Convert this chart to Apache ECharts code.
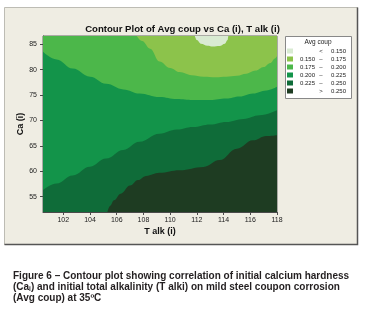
<!DOCTYPE html>
<html>
<head>
<meta charset="utf-8">
<script src="https://cdn.jsdelivr.net/npm/echarts@6/dist/echarts.min.js"></script>
<style>
  html, body { margin: 0; padding: 0; background: #fff; }
  #chart { width: 365px; height: 317px; }
</style>
</head>
<body>
<div id="chart"></div>
<script>
// band edges, as [T alk, Ca] pairs
const topEdge = [[100.48, 86.6], [118, 86.6]];
const yellowEdge = [
  [107.5, 86.6], [107.9, 85.6], [108.5, 84.1], [109.2, 81.6], [110.0, 80.3],
  [110.7, 79.5], [111.6, 78.9], [112.5, 78.6], [113.4, 78.5], [114.2, 78.6],
  [115.0, 78.8], [115.7, 79.2], [116.4, 79.8], [117.0, 80.5], [117.5, 81.3],
  [117.85, 82.2], [118, 82.6]
];
const capEdge = [
  [111.85, 86.6], [112.0, 85.8], [112.3, 85.1], [112.8, 84.7], [113.2, 84.55],
  [113.7, 84.65], [114.1, 85.1], [114.3, 85.8], [114.35, 86.6]
];
const midEdge = [
  [100.48, 83.5], [101.5, 82.0], [102.7, 80.2], [104.0, 78.6], [105.2, 77.2],
  [106.5, 76.1], [107.7, 75.3], [109.2, 74.6], [110.5, 74.2], [111.7, 74.0],
  [113.0, 74.0], [114.2, 74.3], [115.2, 74.7], [116.2, 75.3], [117.2, 75.9], [118, 76.6]
];
const lowEdge = [
  [100.48, 56.3], [101.5, 57.6], [102.7, 59.2], [104.0, 60.9], [105.2, 62.5],
  [106.5, 64.2], [107.7, 65.8], [109.2, 67.4], [110.5, 68.2], [111.7, 68.7],
  [113.0, 69.2], [114.2, 69.7], [115.5, 70.3], [116.7, 71.0], [118, 72.0]
];
const darkEdge = [
  [105.3, 52], [105.5, 53.2], [105.8, 54.3], [106.3, 55.6], [107.0, 57.2],
  [107.6, 58.3], [108.2, 59.1], [109.2, 59.7], [110.7, 60.2], [112.5, 60.85],
  [113.7, 62.2], [115.0, 64.45], [116.2, 66.1], [117.2, 66.95], [118, 67.1]
];

const levelLow = ['', '0.150', '0.175', '0.200', '0.225', ''];
const levelSign = ['<', '–', '–', '–', '–', '>'];
const levelHigh = ['0.150', '0.175', '0.200', '0.225', '0.250', '0.250'];
const levelColors = ['#d9ebd2', '#8cc34b', '#4cb74a', '#13944a', '#0f6c39', '#1e3c22'];

const xTicks = [102, 104, 106, 108, 110, 112, 114, 116, 118];
const yTicks = [55, 60, 65, 70, 75, 80, 85];

const captionLines = [
  'Figure 6 – Contour plot showing correlation of initial calcium hardness',
  '(Ca{sub|i}) and initial total alkalinity (T alki) on mild steel coupon corrosion',
  '(Avg coup) at 35ºC'
];

const levelNames = levelLow.map((lo, i) => (lo + ' ' + levelSign[i] + ' ' + levelHigh[i]).trim());

// paint order: background band first, then blobs at the top, then bands from below
const bands = [
  { level: 2, edge: topEdge, origin: 'start' },
  { level: 1, edge: yellowEdge, origin: 'end' },
  { level: 0, edge: capEdge, origin: 'end' },
  { level: 3, edge: midEdge, origin: 'start' },
  { level: 4, edge: lowEdge, origin: 'start' },
  { level: 5, edge: darkEdge, origin: 'start' }
];

const myChart = echarts.init(document.getElementById('chart'));
const axisColor = '#4a4a4a';
const font = 'Liberation Sans';
const legendText = { fontFamily: font, fontSize: 6, lineHeight: 5, color: '#222' };

myChart.setOption({
  animation: false,
  title: {
    text: 'Contour Plot of Avg coup vs Ca (i), T alk (i)',
    left: 'center',
    top: 19,
    textStyle: { fontFamily: font, fontSize: 9.6, fontWeight: 'bold', color: '#111' }
  },
  grid: { left: 43, top: 36, width: 234, height: 176, show: true, borderColor: '#666', borderWidth: 1, backgroundColor: 'transparent' },
  xAxis: {
    type: 'value',
    min: 100.48,
    max: 118,
    name: 'T alk (i)',
    nameLocation: 'middle',
    nameGap: 15,
    nameMoveOverlap: false,
    nameTextStyle: { fontFamily: font, fontSize: 9, fontWeight: 'bold', color: '#111' },
    axisLine: { show: true, lineStyle: { color: axisColor } },
    axisTick: { show: true, length: 3, customValues: xTicks, lineStyle: { color: axisColor } },
    axisLabel: { customValues: xTicks, margin: 5, fontFamily: font, fontSize: 7, color: '#222' },
    splitLine: { show: false }
  },
  yAxis: {
    type: 'value',
    min: 52,
    max: 86.6,
    name: 'Ca (i)',
    nameLocation: 'middle',
    nameGap: 18,
    nameMoveOverlap: false,
    nameTextStyle: { fontFamily: font, fontSize: 9, fontWeight: 'bold', color: '#111' },
    axisLine: { show: true, lineStyle: { color: axisColor } },
    axisTick: { show: true, length: 3, customValues: yTicks, lineStyle: { color: axisColor } },
    axisLabel: { customValues: yTicks, margin: 6, fontFamily: font, fontSize: 7, color: '#222' },
    splitLine: { show: false }
  },
  legend: {
    orient: 'vertical',
    left: 287,
    top: 48,
    padding: 0,
    icon: 'rect',
    itemWidth: 6,
    itemHeight: 5,
    itemGap: 2,
    selectedMode: false,
    data: levelNames.map((n, i) => ({ name: n, itemStyle: { color: levelColors[i] } })),
    formatter: (name) => {
      const i = levelNames.indexOf(name);
      return '{a|' + levelLow[i] + '}{b|' + levelSign[i] + '}{c|' + levelHigh[i] + '}';
    },
    textStyle: Object.assign({}, legendText, {
      rich: {
        a: Object.assign({}, legendText, { width: 18, align: 'left', padding: [0, 0, 0, 2] }),
        b: Object.assign({}, legendText, { width: 6, align: 'center' }),
        c: Object.assign({}, legendText, { width: 22, align: 'right' })
      }
    })
  },
  graphic: [
    {
      type: 'rect', z: -10, silent: true,
      shape: { x: 4.5, y: 7.5, width: 353, height: 237 },
      style: { fill: '#efede3', stroke: '#bdbcb4', lineWidth: 1 }
    },
    {
      type: 'polyline', z: -9, silent: true,
      shape: { points: [[4.5, 244.5], [357.5, 244.5], [357.5, 7.5]] },
      style: { stroke: '#555', lineWidth: 1.5, fill: null }
    },
    {
      type: 'rect', z: 3, silent: true,
      shape: { x: 285.5, y: 36.5, width: 66, height: 62 },
      style: { fill: '#fff', stroke: '#888', lineWidth: 1 }
    },
    {
      type: 'text', z: 5, silent: true, x: 318, y: 42.7,
      style: { text: 'Avg coup', fontFamily: font, fontSize: 6.5, fill: '#222', align: 'center', verticalAlign: 'middle' }
    },
    {
      type: 'text', z: 5, silent: true, x: 13, y: 270.5,
      style: {
        text: captionLines.join('\n'),
        fontFamily: font, fontSize: 10, fontWeight: 'bold', fill: '#231f20', lineHeight: 11,
        verticalAlign: 'top',
        rich: { sub: { fontFamily: font, fontSize: 6.5, fontWeight: 'bold', verticalAlign: 'bottom', lineHeight: 11 } }
      }
    }
  ],
  series: bands.map((b) => ({
    name: levelNames[b.level],
    type: 'line',
    data: b.edge,
    smooth: 0.4,
    smoothMonotone: 'x',
    showSymbol: false,
    silent: true,
    color: levelColors[b.level],
    lineStyle: { width: 0, color: levelColors[b.level] },
    areaStyle: { color: levelColors[b.level], opacity: 1, origin: b.origin }
  }))
});
</script>
</body>
</html>
